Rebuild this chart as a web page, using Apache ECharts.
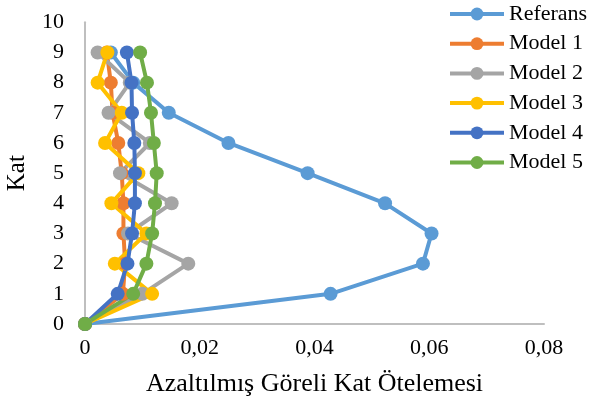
<!DOCTYPE html>
<html>
<head>
<meta charset="utf-8">
<script src="https://cdn.jsdelivr.net/npm/echarts@6/dist/echarts.min.js"></script>
<style>
  html, body { margin: 0; padding: 0; background: #fff; }
  #chart { width: 591px; height: 405px; }
</style>
</head>
<body>
<div id="chart"></div>
<script>
// Floor numbers (vertical axis) and reduced inter-storey drift per floor
const floors = [0, 1, 2, 3, 4, 5, 6, 7, 8, 9];
const referans = [0, 0.0428, 0.0589, 0.0604, 0.0523, 0.0388, 0.0250, 0.0146, 0.0084, 0.0045];
const model1 = [0, 0.0066, 0.0070, 0.0067, 0.0067, 0.0064, 0.0058, 0.0048, 0.0045, 0.0038];
const model2 = [0, 0.0100, 0.0180, 0.0075, 0.0151, 0.0061, 0.0113, 0.0041, 0.0078, 0.0022];
const model3 = [0, 0.0117, 0.0052, 0.0107, 0.0046, 0.0093, 0.0035, 0.0064, 0.0022, 0.0039];
const model4 = [0, 0.0057, 0.0074, 0.0082, 0.0087, 0.0087, 0.0086, 0.0082, 0.0081, 0.0073];
const model5 = [0, 0.0084, 0.0107, 0.0117, 0.0122, 0.0125, 0.0120, 0.0115, 0.0108, 0.0096];

const seriesNames = ['Referans', 'Model 1', 'Model 2', 'Model 3', 'Model 4', 'Model 5'];
const seriesValues = [referans, model1, model2, model3, model4, model5];
const colors = ['#5B9BD5', '#ED7D31', '#A5A5A5', '#FFC000', '#4472C4', '#70AD47'];

const font = 'Liberation Serif';

const chart = echarts.init(document.getElementById('chart'), null, { renderer: 'canvas' });

chart.setOption({
  animation: false,
  color: colors,
  textStyle: { fontFamily: font, color: '#000' },
  grid: {
    left: 85, right: 47, top: 22.3, bottom: 81,
    containLabel: false,
    outerBoundsMode: 'none'
  },
  legend: {
    orient: 'vertical',
    left: 448,
    top: 3,
    padding: 0,
    itemWidth: 54,
    itemHeight: 16,
    itemGap: 7.7,
    data: seriesNames,
    lineStyle: { width: 4 },
    textStyle: { fontFamily: font, fontSize: 22, lineHeight: 22, color: '#000' }
  },
  xAxis: {
    type: 'value',
    min: 0,
    max: 0.08,
    interval: 0.02,
    name: 'Azaltılmış Göreli Kat Ötelemesi',
    nameLocation: 'middle',
    nameGap: 47,
    nameTextStyle: { fontFamily: font, fontSize: 26, color: '#000' },
    axisLine: { show: true, lineStyle: { color: '#BFBFBF', width: 2 } },
    axisTick: { show: false },
    splitLine: { show: false },
    axisLabel: {
      margin: 13,
      fontFamily: font,
      fontSize: 22,
      color: '#000',
      formatter: v => (v === 0 ? '0' : v.toFixed(2).replace('.', ','))
    }
  },
  yAxis: {
    type: 'value',
    min: 0,
    max: 10,
    interval: 1,
    name: 'Kat',
    nameLocation: 'middle',
    nameGap: 55,
    nameRotate: 90,
    nameTextStyle: { fontFamily: font, fontSize: 25, color: '#000' },
    axisLine: { show: true, lineStyle: { color: '#BFBFBF', width: 2 } },
    axisTick: { show: false },
    splitLine: { show: false },
    axisLabel: { margin: 21, fontFamily: font, fontSize: 22, color: '#000' }
  },
  series: seriesNames.map((name, i) => ({
    name,
    type: 'line',
    data: seriesValues[i].map((v, k) => [v, floors[k]]),
    symbol: 'circle',
    symbolSize: 14,
    showSymbol: true,
    lineStyle: { width: 4, color: colors[i] },
    itemStyle: { color: colors[i], borderWidth: 0 }
  }))
});
</script>
</body>
</html>
